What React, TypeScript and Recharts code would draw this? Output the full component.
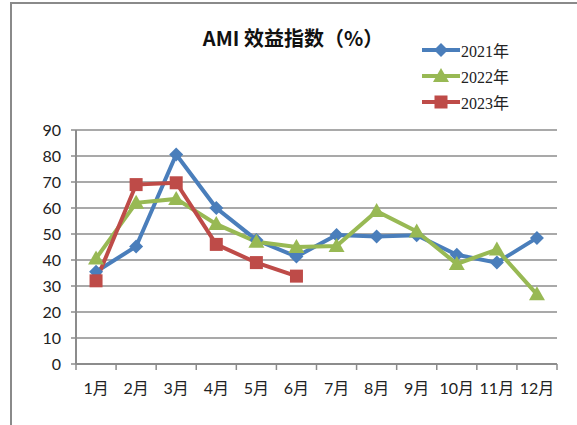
import React from "react";
import { LineChart, Line, XAxis, YAxis, CartesianGrid, Legend } from "recharts";

const months = ["1月", "2月", "3月", "4月", "5月", "6月", "7月", "8月", "9月", "10月", "11月", "12月"];
const s2021 = [35.5, 45.2, 80.6, 60.0, 47.7, 41.3, 49.6, 49.0, 49.5, 42.0, 39.0, 48.5];
const s2022 = [40.6, 62.0, 63.5, 53.8, 47.0, 45.0, 45.4, 58.8, 51.0, 38.5, 44.0, 26.8];
const s2023 = [32.0, 69.0, 69.7, 46.0, 39.0, 33.8];
const yTicks = [0, 10, 20, 30, 40, 50, 60, 70, 80, 90];
const seriesNames = ["2021年", "2022年", "2023年"];
const colors = ["#4a7ebb", "#98b954", "#be4b48"];

const data = months.map((m, i) => ({
  m,
  x: i + 0.5,
  a: s2021[i],
  b: s2022[i],
  c: i < s2023.length ? s2023[i] : null,
}));

const boundaryTicks = months.map((_, i) => i).concat([months.length]);
const labelTicks = months.map((_, i) => i + 0.5);

const Marker = ({ kind, cx, cy, color }: any) => {
  if (cx == null || cy == null) return null;
  if (kind === "diamond") {
    return (
      <polygon
        points={`${cx},${cy - 7} ${cx + 7},${cy} ${cx},${cy + 7} ${cx - 7},${cy}`}
        fill={color}
      />
    );
  }
  if (kind === "triangle") {
    return (
      <polygon
        points={`${cx},${cy - 8} ${cx + 8},${cy + 6} ${cx - 8},${cy + 6}`}
        fill={color}
      />
    );
  }
  return <rect x={cx - 6.5} y={cy - 6.5} width={13} height={13} fill={color} />;
};

const kinds = ["diamond", "triangle", "square"];

const makeDot = (kind: string, color: string) => (props: any) => {
  const { cx, cy, index, value } = props;
  if (value == null || cy == null) return <g key={`${kind}-${index}`} />;
  return (
    <g key={`${kind}-${index}`}>
      <Marker kind={kind} cx={cx} cy={cy} color={color} />
    </g>
  );
};

const LegendContent = () => (
  <div style={{ display: "flex", flexDirection: "column" }}>
    {seriesNames.map((n, i) => (
      <div key={n} style={{ display: "flex", alignItems: "center", height: 26 }}>
        <svg width={38} height={20}>
          <line x1={0} y1={10} x2={38} y2={10} stroke={colors[i]} strokeWidth={4} />
          <Marker kind={kinds[i]} cx={19} cy={10} color={colors[i]} />
        </svg>
        <span
          style={{
            fontFamily: "'Liberation Serif', 'Noto Sans CJK SC', serif",
            fontSize: 16,
            color: "#222",
            marginLeft: 1,
          }}
        >
          {n}
        </span>
      </div>
    ))}
  </div>
);

export default function App() {
  const axisFont = { fontFamily: "Lato, 'Noto Sans CJK SC', sans-serif", fontSize: 16, fill: "#222" };
  return (
    <div
      style={{
        position: "absolute",
        left: 0,
        top: 0,
        width: 577,
        height: 425,
        background: "#fff",
        overflow: "hidden",
      }}
    >
      <div
        style={{
          position: "absolute",
          left: 10,
          top: 2,
          width: 580,
          height: 440,
          borderTop: "2px solid #8a8a8a",
          borderLeft: "2px solid #8a8a8a",
        }}
      />
      <div
        style={{
          position: "absolute",
          left: 193,
          top: 24,
          width: 200,
          textAlign: "center",
          fontFamily: "'Noto Sans CJK SC', sans-serif",
          fontWeight: 700,
          fontSize: 20,
          lineHeight: "28px",
          color: "#111",
          whiteSpace: "nowrap",
        }}
      >
        AMI 效益指数（%）
      </div>
      <LineChart
        width={577}
        height={425}
        data={data}
        margin={{ top: 130, right: 20, bottom: 8, left: 0 }}
      >
        <CartesianGrid horizontal vertical={false} stroke="#8c8c8c" strokeWidth={1.5} />
        <XAxis
          xAxisId="a"
          type="number"
          dataKey="x"
          domain={[0, 12]}
          ticks={boundaryTicks}
          interval={0}
          height={8}
          tickSize={6}
          tickFormatter={() => ""}
          axisLine={{ stroke: "#8c8c8c", strokeWidth: 2 }}
          tickLine={{ stroke: "#8c8c8c", strokeWidth: 1.5 }}
        />
        <XAxis
          xAxisId="b"
          type="number"
          dataKey="x"
          domain={[0, 12]}
          ticks={labelTicks}
          interval={0}
          allowDecimals
          height={45}
          tickSize={0}
          tickMargin={11}
          axisLine={false}
          tickLine={false}
          tick={axisFont}
          tickFormatter={(v: number) => months[Math.round(v - 0.5)]}
        />
        <YAxis
          domain={[0, 90]}
          ticks={yTicks}
          interval={0}
          width={76}
          tickSize={5}
          tickMargin={10}
          tick={axisFont}
          axisLine={{ stroke: "#8c8c8c", strokeWidth: 2 }}
          tickLine={{ stroke: "#8c8c8c", strokeWidth: 1.5 }}
        />
        <Legend
          layout="vertical"
          align="center"
          verticalAlign="middle"
          content={<LegendContent />}
          wrapperStyle={{ left: 422, top: 37, width: 120 }}
        />
        <Line
          xAxisId="a"
          type="linear"
          dataKey="a"
          name={seriesNames[0]}
          stroke={colors[0]}
          strokeWidth={4}
          dot={makeDot("diamond", colors[0])}
          activeDot={false}
          isAnimationActive={false}
        />
        <Line
          xAxisId="a"
          type="linear"
          dataKey="b"
          name={seriesNames[1]}
          stroke={colors[1]}
          strokeWidth={4}
          dot={makeDot("triangle", colors[1])}
          activeDot={false}
          isAnimationActive={false}
        />
        <Line
          xAxisId="a"
          type="linear"
          dataKey="c"
          name={seriesNames[2]}
          stroke={colors[2]}
          strokeWidth={4}
          dot={makeDot("square", colors[2])}
          activeDot={false}
          isAnimationActive={false}
        />
      </LineChart>
    </div>
  );
}
